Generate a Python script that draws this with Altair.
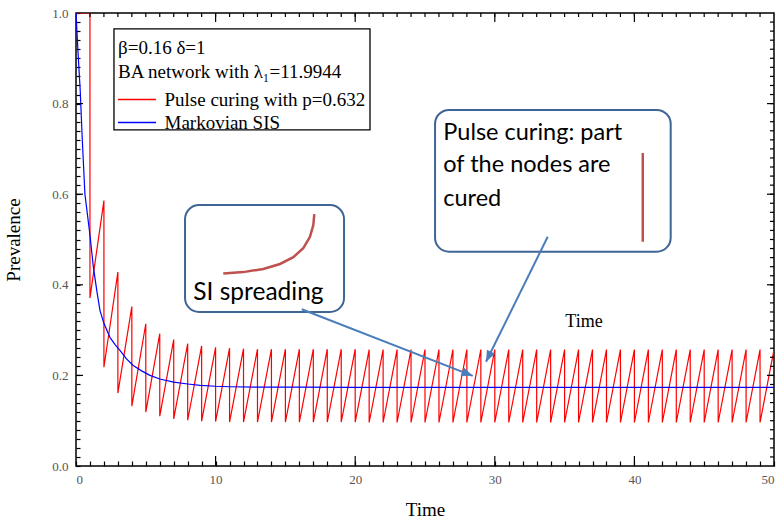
import math
import altair as alt
import pandas as pd

# ---------------- data ----------------
cure_times = list(range(1, 51))
# prevalence just before each curing pulse (t = 1..50)
peak_before_cure = [1.000, 0.586, 0.428, 0.352, 0.314, 0.292, 0.279, 0.270, 0.265, 0.262,
                    0.260, 0.259, 0.258, 0.258, 0.258, 0.258, 0.258, 0.258, 0.258, 0.258,
                    0.257, 0.257, 0.257, 0.257, 0.257, 0.257, 0.257, 0.257, 0.257, 0.257,
                    0.257, 0.257, 0.257, 0.257, 0.257, 0.257, 0.257, 0.257, 0.257, 0.257,
                    0.257, 0.257, 0.257, 0.257, 0.257, 0.257, 0.257, 0.257, 0.257, 0.257]
# prevalence right after each curing pulse (t = 1..49)
trough_after_cure = [0.371, 0.218, 0.161, 0.132, 0.119, 0.110, 0.104, 0.101, 0.099, 0.098,
                     0.097, 0.097, 0.097, 0.097, 0.097, 0.097, 0.097, 0.097, 0.097, 0.097,
                     0.096, 0.096, 0.096, 0.096, 0.096, 0.096, 0.096, 0.096, 0.096, 0.096,
                     0.096, 0.096, 0.096, 0.096, 0.096, 0.096, 0.096, 0.096, 0.096, 0.096,
                     0.096, 0.096, 0.096, 0.096, 0.096, 0.096, 0.096, 0.096, 0.096]
start_time = 0
start_value = 1.0

sis_time = [0, 0.15, 0.3, 0.45, 0.64, 0.8, 1.0, 1.24, 1.5, 1.72, 2.0, 2.43, 2.8, 3.15,
            3.6, 4.1, 4.7, 5.3, 6.0, 7.0, 8.0, 8.9, 10, 11, 13, 16, 20, 30, 40, 50]
sis_value = [1.0, 0.91, 0.83, 0.72, 0.60, 0.56, 0.51, 0.44, 0.385, 0.343, 0.315, 0.284,
             0.268, 0.255, 0.237, 0.222, 0.210, 0.200, 0.192, 0.185, 0.181, 0.178, 0.176,
             0.175, 0.174, 0.174, 0.1735, 0.1735, 0.1735, 0.1735]

pulse_label = "Pulse curing with p=0.632"
sis_label = "Markovian SIS"
legend_title = ["\u03b2=0.16 \u03b4=1", "BA network with \u03bb\u2081=11.9944"]

x_tick_values = list(range(0, 51))
y_tick_values = [round(i * 0.02, 2) for i in range(51)]
x_minor_values = list(range(1, 50))
x_major_values = [10, 20, 30, 40]
y_minor_values = [round(i * 0.02, 2) for i in range(1, 50)]
y_major_values = [0.2, 0.4, 0.6, 0.8]

# annotation layout (in data units: time / prevalence)
legend_box = {"t1": [2.72], "t2": [21.06], "v1": [0.965], "v2": [0.742]}
box_t1 = [7.81, 25.72]
box_t2 = [19.20, 42.60]
box_v1 = [0.576, 0.786]
box_v2 = [0.340, 0.473]

si_curve_t = [10.55, 11.98, 13.42, 14.61, 15.57, 16.28, 16.76, 17.00, 17.07]
si_curve_v = [0.425, 0.428, 0.435, 0.446, 0.461, 0.481, 0.506, 0.532, 0.556]

cure_mark_t = [40.6]
cure_mark_v1 = [0.691]
cure_mark_v2 = [0.495]

note_text = ["SI spreading", "Pulse curing: part", "of the nodes are", "cured"]
note_t = [8.40, 26.31, 26.31, 26.31]
note_v = [0.366, 0.720, 0.648, 0.574]
note_size = [24.5, 23.5, 23.5, 23.5]

arrow_start_t = [16.17, 33.79]
arrow_start_v = [0.346, 0.506]
arrow_tip_t = [28.42, 29.37]
arrow_tip_v = [0.199, 0.230]

stray_label = ["Time"]
stray_t = [36.39]
stray_v = [0.307]

# ---------------- build tables ----------------
W, H = 698, 453
rows = [{"time": start_time, "value": start_value, "series": pulse_label, "order": 0}]
k = 1
for i, t in enumerate(cure_times):
    rows.append({"time": t, "value": peak_before_cure[i], "series": pulse_label, "order": k}); k += 1
    if i < len(trough_after_cure):
        rows.append({"time": t, "value": trough_after_cure[i], "series": pulse_label, "order": k}); k += 1
for j, (t, v) in enumerate(zip(sis_time, sis_value)):
    rows.append({"time": t, "value": v, "series": sis_label, "order": j})
lines_df = pd.DataFrame(rows)

legend_box_df = pd.DataFrame(legend_box)
boxes_df = pd.DataFrame({"t1": box_t1, "t2": box_t2, "v1": box_v1, "v2": box_v2})
si_df = pd.DataFrame({"t": si_curve_t, "v": si_curve_v, "o": list(range(len(si_curve_t)))})
cure_df = pd.DataFrame({"t": cure_mark_t, "v1": cure_mark_v1, "v2": cure_mark_v2})
notes_df = pd.DataFrame({"t": note_t, "v": note_v, "txt": note_text, "fs": note_size})
stray_df = pd.DataFrame({"t": stray_t, "v": stray_v, "txt": stray_label})

arrow_rows, head_rows = [], []
for a in range(len(arrow_start_t)):
    arrow_rows.append({"a": a, "o": 0, "t": arrow_start_t[a], "v": arrow_start_v[a]})
    arrow_rows.append({"a": a, "o": 1, "t": arrow_tip_t[a], "v": arrow_tip_v[a]})
    dx = (arrow_tip_t[a] - arrow_start_t[a]) * W / 50
    dy = -(arrow_tip_v[a] - arrow_start_v[a]) * H
    ang = math.degrees(math.atan2(dx, -dy)) % 360
    head_rows.append({"t": arrow_tip_t[a], "v": arrow_tip_v[a], "ang": ang})
arrow_df = pd.DataFrame(arrow_rows)
head_df = pd.DataFrame(head_rows)

# extra tick marks along the top / right edges and major marks (px lengths -> data units)
xt_rows, yt_rows = [], []
for t in x_major_values:
    xt_rows.append({"t": t, "v0": 0.0, "v1": 10 / H})
for vals, length in ((x_minor_values, 4), (x_major_values, 9)):
    for t in vals:
        xt_rows.append({"t": t, "v0": 1.0, "v1": 1.0 - length / H})
for v in y_major_values:
    yt_rows.append({"v": v, "t0": 0.0, "t1": 7 * 50 / W})
for vals, length in ((y_minor_values, 4), (y_major_values, 7)):
    for v in vals:
        yt_rows.append({"v": v, "t0": 50.0, "t1": 50.0 - length * 50 / W})
xt_df = pd.DataFrame(xt_rows)
yt_df = pd.DataFrame(yt_rows)

# ---------------- scales & axes ----------------
xs = alt.Scale(domain=[0, 50], nice=False, zero=False)
ys = alt.Scale(domain=[0, 1], nice=False, zero=False)
SERIF = "Liberation Serif"

# the same axis definition is given to every layer, so they merge into one;
# a negative tick size (given as an expression) makes the ticks point into the plot
AX_X = alt.Axis(orient="bottom", values=x_tick_values, format="d",
                labelExpr="datum.value % 10 === 0 ? datum.label : ''", labelOverlap=False,
                ticks=True, tickSize={"expr": "-5"}, tickColor="black", tickWidth=1.2,
                domain=False, grid=False, labelFont=SERIF, labelFontSize=13,
                labelColor="#555555", labelPadding=12, title="Time", titleFont=SERIF,
                titleFontSize=19, titleFontWeight="normal", titleColor="black",
                titleBaseline="alphabetic", titleY=49)
AX_Y = alt.Axis(orient="left", values=y_tick_values, format=".1f",
                labelExpr="abs(datum.value*5 - round(datum.value*5)) < 0.000001 ? datum.label : ''",
                labelOverlap=False,
                ticks=True, tickSize={"expr": "-4"}, tickColor="black", tickWidth=1.2,
                domain=False, grid=False, labelFont=SERIF, labelFontSize=13,
                labelColor="#555555", labelPadding=12, title="Prevalence",
                titleFont=SERIF, titleFontSize=19, titleFontWeight="normal",
                titleColor="black", titlePadding=28)


def X(field):
    return alt.X(field, scale=xs, axis=AX_X)


def Y(field):
    return alt.Y(field, scale=ys, axis=AX_Y)


# ---------------- layers ----------------
lines = alt.Chart(lines_df).mark_line(strokeWidth=1.2, clip=True).encode(
    x=X("time:Q"), y=Y("value:Q"),
    order=alt.Order("order:Q"),
    color=alt.Color("series:N",
                    scale=alt.Scale(domain=[pulse_label, sis_label], range=["#ff0000", "#0000ff"]),
                    sort=[pulse_label, sis_label],
                    legend=alt.Legend(orient="none", legendX=38, legendY=22, title=legend_title,
                                      titleFont=SERIF, titleFontSize=19, titleFontWeight="normal",
                                      titleColor="black", titleLineHeight=24, titlePadding=7,
                                      titleLimit=400, labelLimit=400,
                                      labelFont=SERIF, labelFontSize=19, labelColor="black",
                                      labelOffset=17, symbolType="M-2,0L2,0", symbolSize=361,
                                      symbolOffset=8.5, symbolStrokeWidth=1.3, rowPadding=2,
                                      padding=4)),
)

x_tick_marks = alt.Chart(xt_df).mark_rule(color="black", strokeWidth=1.2).encode(
    x=X("t:Q"), y=Y("v0:Q"), y2="v1:Q",
)
y_tick_marks = alt.Chart(yt_df).mark_rule(color="black", strokeWidth=1.2).encode(
    x=X("t0:Q"), x2="t1:Q", y=Y("v:Q"),
)

legend_frame = alt.Chart(legend_box_df).mark_rect(fill="white", stroke="black",
                                                  strokeWidth=1.3).encode(
    x=X("t1:Q"), x2="t2:Q", y=Y("v1:Q"), y2="v2:Q",
)

boxes = alt.Chart(boxes_df).mark_rect(cornerRadius=14, fill="white", stroke="#3f6595",
                                      strokeWidth=2).encode(
    x=X("t1:Q"), x2="t2:Q", y=Y("v1:Q"), y2="v2:Q",
)

si_curve = alt.Chart(si_df).mark_line(color="#c0504d", strokeWidth=2.5).encode(
    x=X("t:Q"), y=Y("v:Q"), order="o:Q",
)

cure_mark = alt.Chart(cure_df).mark_rule(color="#c0504d", strokeWidth=2.5).encode(
    x=X("t:Q"), y=Y("v1:Q"), y2="v2:Q",
)

notes = alt.Chart(notes_df).mark_text(font="Lato", align="left",
                                      baseline="alphabetic", color="black").encode(
    x=X("t:Q"), y=Y("v:Q"),
    text="txt:N",
    size=alt.Size("fs:Q", scale=None, legend=None),
)

stray = alt.Chart(stray_df).mark_text(font=SERIF, fontSize=18, align="center",
                                      baseline="alphabetic", color="black").encode(
    x=X("t:Q"), y=Y("v:Q"), text="txt:N",
)

arrows = alt.Chart(arrow_df).mark_line(color="#4a7ebb", strokeWidth=2).encode(
    x=X("t:Q"), y=Y("v:Q"), detail="a:N", order="o:Q",
)

heads = alt.Chart(head_df).mark_point(shape="M0,0L0.5,1.25L-0.5,1.25Z", size=324, filled=True,
                                      color="#4a7ebb", opacity=1).encode(
    x=X("t:Q"), y=Y("v:Q"),
    angle=alt.Angle("ang:Q", scale=None),
)

chart = alt.layer(legend_frame, lines, x_tick_marks, y_tick_marks, boxes, si_curve, cure_mark,
                  notes, stray, arrows, heads).properties(
    width=W, height=H,
    padding={"left": 76, "top": 13, "right": 8, "bottom": 52},
    autosize=alt.AutoSizeParams(type="none"),
    background="white",
).configure_view(stroke="black", strokeWidth=1.5)

chart.save("out.html", embed_options={"renderer": "svg", "actions": False})
